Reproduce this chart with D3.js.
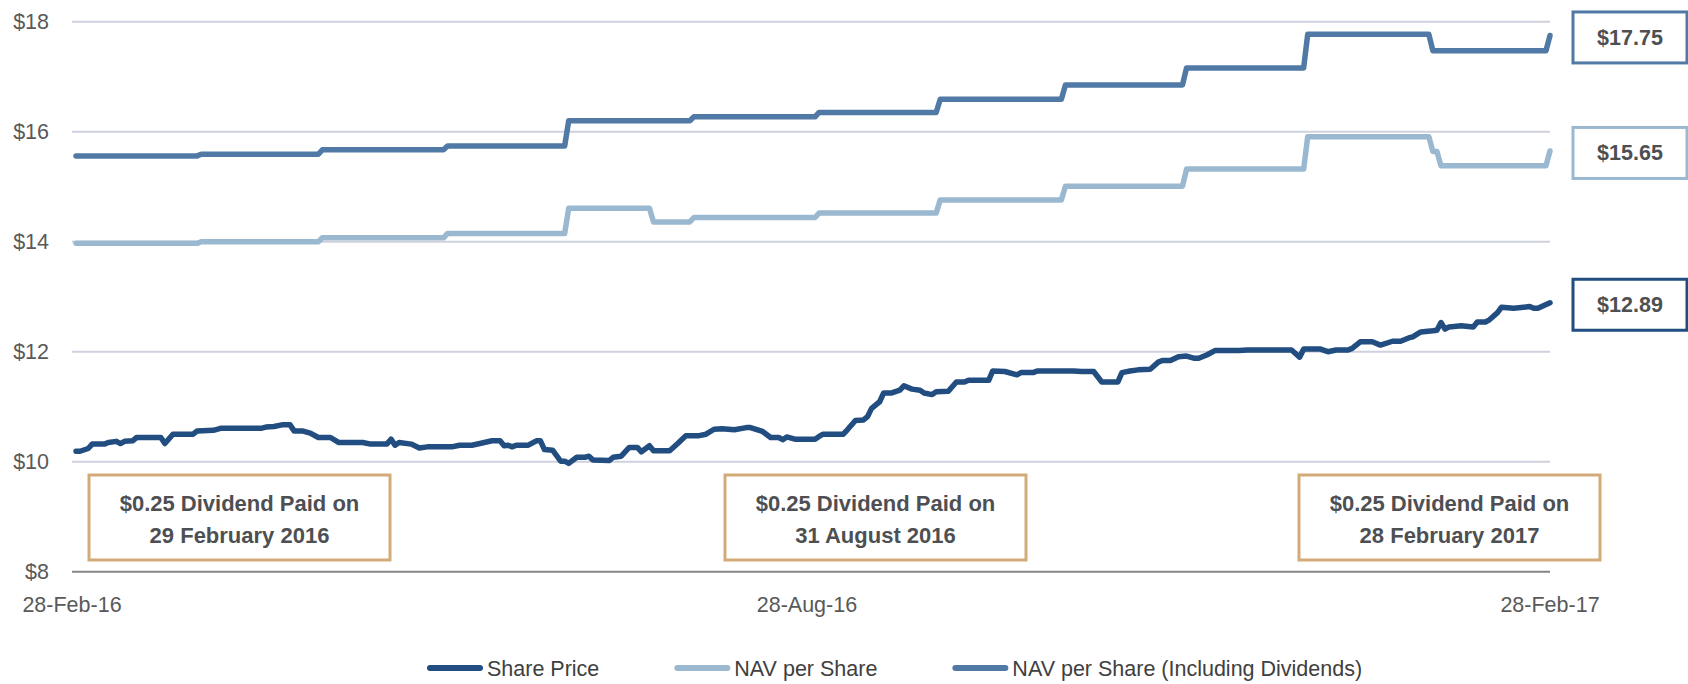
<!DOCTYPE html>
<html>
<head>
<meta charset="utf-8">
<script src="https://cdn.jsdelivr.net/npm/d3@7"></script>
<style>
  body { margin: 0; background: #fff; }
  svg { display: block; font-family: "Liberation Sans", Arial, sans-serif; }
</style>
</head>
<body>
<div id="chart"></div>
<script>
// all series are keyed by day offset from 28-Feb-16
var startDate = new Date(2016, 1, 28);
var endDate = new Date(2017, 1, 28);

var priceDays = [1, 2, 4, 5, 8, 9, 11, 12, 13, 15, 16, 22, 23, 25, 30, 31, 35, 37, 47, 48, 50, 52, 54, 55, 57, 59, 61, 64, 66, 72, 74, 78, 79, 80, 81, 84, 86, 88, 94, 96, 99, 101, 104, 106, 107, 108, 109, 110, 113, 115, 116, 117, 119, 121, 122, 123, 125, 127, 128, 129, 133, 134, 136, 138, 140, 141, 143, 144, 148, 150, 152, 155, 157, 159, 161, 164, 167, 168, 171, 173, 175, 176, 177, 179, 184, 185, 186, 191, 192, 194, 196, 197, 198, 200, 201, 203, 205, 206, 208, 210, 211, 213, 214, 217, 219, 221, 222, 227, 228, 231, 234, 235, 238, 239, 248, 250, 253, 255, 259, 260, 262, 264, 267, 269, 270, 272, 274, 276, 278, 279, 281, 283, 289, 291, 302, 304, 305, 309, 311, 313, 316, 317, 319, 322, 324, 327, 329, 331, 332, 334, 337, 338, 339, 340, 341, 344, 347, 348, 350, 351, 353, 354, 357, 361, 362, 363, 366];
var priceValues = [10.19, 10.19, 10.24, 10.32, 10.32, 10.35, 10.37, 10.33, 10.37, 10.38, 10.44, 10.44, 10.33, 10.50, 10.50, 10.56, 10.57, 10.61, 10.61, 10.63, 10.64, 10.67, 10.67, 10.56, 10.56, 10.52, 10.44, 10.44, 10.35, 10.35, 10.32, 10.32, 10.41, 10.30, 10.35, 10.32, 10.25, 10.27, 10.27, 10.30, 10.30, 10.33, 10.38, 10.38, 10.29, 10.30, 10.27, 10.30, 10.30, 10.38, 10.38, 10.22, 10.21, 10.01, 10.01, 9.97, 10.08, 10.08, 10.10, 10.03, 10.02, 10.08, 10.10, 10.26, 10.26, 10.18, 10.29, 10.20, 10.20, 10.33, 10.47, 10.47, 10.50, 10.59, 10.60, 10.58, 10.62, 10.62, 10.55, 10.44, 10.44, 10.40, 10.45, 10.41, 10.41, 10.46, 10.50, 10.50, 10.58, 10.75, 10.76, 10.82, 10.97, 11.09, 11.25, 11.25, 11.30, 11.38, 11.32, 11.30, 11.25, 11.22, 11.27, 11.28, 11.45, 11.45, 11.48, 11.48, 11.65, 11.64, 11.58, 11.62, 11.62, 11.65, 11.65, 11.64, 11.64, 11.45, 11.45, 11.62, 11.65, 11.67, 11.68, 11.81, 11.84, 11.84, 11.91, 11.92, 11.88, 11.88, 11.94, 12.02, 12.02, 12.03, 12.03, 11.90, 12.05, 12.05, 12.00, 12.03, 12.03, 12.06, 12.18, 12.18, 12.12, 12.19, 12.19, 12.25, 12.27, 12.36, 12.38, 12.39, 12.53, 12.41, 12.45, 12.47, 12.45, 12.54, 12.54, 12.58, 12.71, 12.81, 12.79, 12.82, 12.79, 12.79, 12.89];

// NAV is struck monthly: value holds from its day until the next change
var navDays = [1, 32, 62, 93, 123, 144, 154, 185, 215, 246, 276, 306, 337, 339, 366];
var navValues = [13.97, 14.00, 14.07, 14.15, 14.61, 14.36, 14.44, 14.52, 14.76, 15.01, 15.32, 15.91, 15.64, 15.38, 15.65];

var navDivDays = [1, 32, 62, 93, 123, 154, 185, 215, 246, 276, 306, 337, 366];
var navDivValues = [15.56, 15.59, 15.67, 15.74, 16.20, 16.27, 16.35, 16.59, 16.85, 17.16, 17.77, 17.47, 17.75];

var seriesNames = ['Share Price', 'NAV per Share', 'NAV per Share (Including Dividends)'];
var seriesColors = ['#214d80', '#9ab9d0', '#5179a5'];

var yTicks = [8, 10, 12, 14, 16, 18];
var xTickDates = [new Date(2016, 1, 28), new Date(2016, 7, 28), new Date(2017, 1, 28)];

var noteLines = [
	['$0.25 Dividend Paid on', '29 February 2016'],
	['$0.25 Dividend Paid on', '31 August 2016'],
	['$0.25 Dividend Paid on', '28 February 2017']
];

///////////////////////////////////////////////////////////////////////////
/////////////////////////////// set up ////////////////////////////////////
///////////////////////////////////////////////////////////////////////////
var width = 1688;
var height = 684;
var plot = {left: 72, right: 1550, top: 21.7, bottom: 571.7};

var svg = d3.select('#chart').append('svg')
	.attr('width', width).attr('height', height);

var x = d3.scaleTime().domain([startDate, endDate]).range([plot.left, plot.right]);
var y = d3.scaleLinear().domain([8, 18]).range([plot.bottom, plot.top]);

function dayDate(d) { return d3.timeDay.offset(startDate, d); }

function pointSeries(days, values) {
	return days.map((d, i) => ({date: dayDate(d), value: values[i]}));
}

// hold each value until the day before the next one
function stepSeries(days, values) {
	var pts = [];
	days.forEach((d, i) => {
		pts.push({date: dayDate(d), value: values[i]});
		if (i < days.length - 1 && days[i + 1] - 1 > d) {
			pts.push({date: dayDate(days[i + 1] - 1), value: values[i]});
		}
	});
	return pts;
}

var series = [
	{name: seriesNames[2], color: seriesColors[2], points: stepSeries(navDivDays, navDivValues), last: navDivValues[navDivValues.length - 1]},
	{name: seriesNames[1], color: seriesColors[1], points: stepSeries(navDays, navValues), last: navValues[navValues.length - 1]},
	{name: seriesNames[0], color: seriesColors[0], points: pointSeries(priceDays, priceValues), last: priceValues[priceValues.length - 1]}
];

///////////////////////////////////////////////////////////////////////////
/////////////////////////////// axes //////////////////////////////////////
///////////////////////////////////////////////////////////////////////////
svg.append('g').selectAll('line')
	.data(yTicks.filter(t => t > 8))
	.enter().append('line')
	.attr('x1', plot.left).attr('x2', plot.right)
	.attr('y1', d => y(d)).attr('y2', d => y(d))
	.attr('stroke', '#cfd2de').attr('stroke-width', 2);

svg.append('line')
	.attr('x1', plot.left).attr('x2', plot.right)
	.attr('y1', y(8)).attr('y2', y(8))
	.attr('stroke', '#858585').attr('stroke-width', 2);

svg.append('g').selectAll('text')
	.data(yTicks)
	.enter().append('text')
	.attr('x', 49).attr('y', d => y(d)).attr('dy', '0.35em')
	.attr('text-anchor', 'end')
	.attr('font-size', 21.5).attr('fill', '#595959')
	.text(d => '$' + d);

var fmtTick = d3.timeFormat('%d-%b-%y');
svg.append('g').selectAll('text')
	.data(xTickDates)
	.enter().append('text')
	.attr('x', d => x(d)).attr('y', 604).attr('dy', '0.35em')
	.attr('text-anchor', 'middle')
	.attr('font-size', 21.5).attr('fill', '#595959')
	.text(d => fmtTick(d));

///////////////////////////////////////////////////////////////////////////
/////////////////////////////// lines /////////////////////////////////////
///////////////////////////////////////////////////////////////////////////
var line = d3.line().x(d => x(d.date)).y(d => y(d.value));

svg.append('g').selectAll('path')
	.data(series)
	.enter().append('path')
	.attr('d', d => line(d.points))
	.attr('fill', 'none')
	.attr('stroke', d => d.color)
	.attr('stroke-width', 5.5)
	.attr('stroke-linejoin', 'round')
	.attr('stroke-linecap', 'round');

// closing value boxes
var fmtValue = d3.format('$.2f');
var valueBox = svg.append('g').selectAll('g')
	.data(series)
	.enter().append('g')
	.attr('transform', d => 'translate(' + [1573, y(d.last) + 2] + ')');

valueBox.append('rect')
	.attr('x', 0).attr('y', -25.5)
	.attr('width', 114).attr('height', 51)
	.attr('fill', '#fff')
	.attr('stroke', d => d.color).attr('stroke-width', 3);

valueBox.append('text')
	.attr('x', 57).attr('dy', '0.35em')
	.attr('text-anchor', 'middle')
	.attr('font-size', 21.5).attr('font-weight', 'bold').attr('fill', '#4d4f53')
	.text(d => fmtValue(d.last));

///////////////////////////////////////////////////////////////////////////
/////////////////////////////// dividend notes ////////////////////////////
///////////////////////////////////////////////////////////////////////////
var noteLeft = [89, 725, 1299];
var notes = svg.append('g').selectAll('g')
	.data(noteLines)
	.enter().append('g')
	.attr('transform', (d, i) => 'translate(' + [noteLeft[i], 475] + ')');

notes.append('rect')
	.attr('width', 301).attr('height', 85)
	.attr('fill', '#fff')
	.attr('stroke', '#d3ab78').attr('stroke-width', 3);

notes.selectAll('text')
	.data(d => d)
	.enter().append('text')
	.attr('x', 150.5)
	.attr('y', (d, i) => 28 + i * 32).attr('dy', '0.35em')
	.attr('text-anchor', 'middle')
	.attr('font-size', 22).attr('font-weight', 'bold').attr('fill', '#4d4f53')
	.text(d => d);

///////////////////////////////////////////////////////////////////////////
/////////////////////////////// legend ////////////////////////////////////
///////////////////////////////////////////////////////////////////////////
var legend = svg.append('g').attr('transform', 'translate(0,668)');
var lx = 430;
seriesNames.forEach((name, i) => {
	legend.append('line')
		.attr('x1', lx).attr('x2', lx + 50)
		.attr('stroke', seriesColors[i]).attr('stroke-width', 6)
		.attr('stroke-linecap', 'round');
	var t = legend.append('text')
		.attr('x', lx + 57).attr('dy', '0.35em')
		.attr('font-size', 21.5).attr('fill', '#404040')
		.text(name);
	lx += 57 + t.node().getComputedTextLength() + 78;
});
</script>
</body>
</html>
